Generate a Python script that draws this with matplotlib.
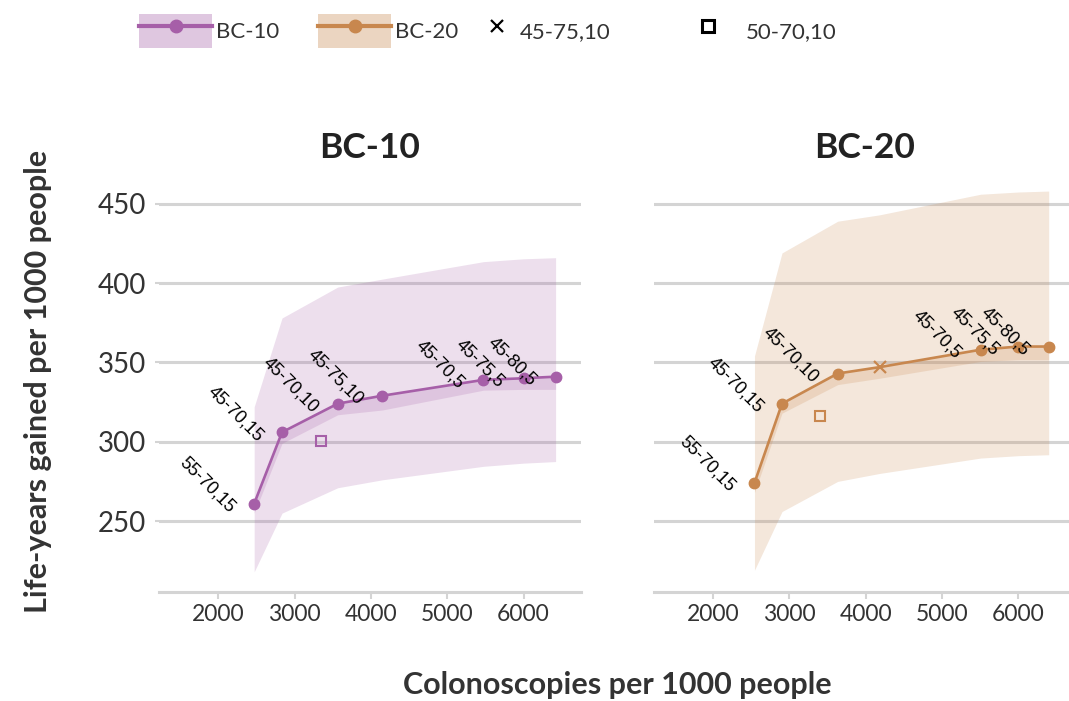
import matplotlib.pyplot as plt
from matplotlib.lines import Line2D
from matplotlib.patches import Patch

# Efficient-frontier strategies (start age - stop age, interval)
x_bc10 = [2470, 2835, 3565, 4150, 5475, 6000, 6420]
y_bc10 = [261, 306, 324, 329, 339, 340, 341]
lab_bc10 = ["55-70,15", "45-70,15", "45-70,10", "45-75,10", "45-70,5", "45-75,5", "45-80,5"]
mk_bc10 = ["o", "o", "o", "o", "o", "o", "o"]
hi_bc10 = [322, 378, 397.5, 402.5, 413.5, 415.3, 416]
lo_bc10 = [218, 255, 271, 276, 284.5, 286.5, 287.5]
inner_bc10 = [255, 299, 317, 320, 332.5, 333, 333]
sq_bc10 = (3343, 300.5)

x_bc20 = [2544, 2905, 3635, 4183, 5508, 6000, 6400]
y_bc20 = [274, 324, 343, 347, 358, 360, 360]
lab_bc20 = ["55-70,15", "45-70,15", "45-70,10", "", "45-70,5", "45-75,5", "45-80,5"]
mk_bc20 = ["o", "o", "o", "x", "o", "o", "o"]
hi_bc20 = [354, 419, 439, 443, 456, 457.4, 458]
lo_bc20 = [219, 256, 275, 280, 289.7, 291.2, 291.8]
inner_bc20 = [268, 318, 336, 340, 350.6, 351.7, 351.7]
sq_bc20 = (3404, 316.5)

purple = "#a65fa8"
tan = "#c8874e"
grid_c = "#d4d4d4"
text_c = "#333333"

plt.rcParams["font.family"] = ["Lato", "DejaVu Sans"]

fig = plt.figure(figsize=(10.69, 7.01), dpi=100)
ax1 = fig.add_axes([0.1487, 0.156, 0.3948, 0.5986])
ax2 = fig.add_axes([0.6114, 0.156, 0.3948, 0.5986])

panels = [
    (ax1, "BC-10", purple, x_bc10, y_bc10, lab_bc10, mk_bc10, hi_bc10, lo_bc10, inner_bc10, sq_bc10),
    (ax2, "BC-20", tan, x_bc20, y_bc20, lab_bc20, mk_bc20, hi_bc20, lo_bc20, inner_bc20, sq_bc20),
]

for ax, title, col, xs, ys, labs, mks, hi, lo, inner, sq in panels:
    ax.fill_between(xs, lo, hi, color=col, alpha=0.2, lw=0, zorder=1)
    ax.fill_between(xs, inner, ys, color=col, alpha=0.2, lw=0, zorder=1)
    ax.plot(xs, ys, color=col, lw=1.9, zorder=3)
    for x, y, m in zip(xs, ys, mks):
        if m == "o":
            ax.plot(x, y, "o", color=col, ms=7.5, zorder=4)
        else:
            ax.plot(x, y, "x", color=col, ms=9, mew=1.6, zorder=4)
    ax.plot(sq[0], sq[1], "s", mfc="none", mec=col, ms=7.5, mew=1.5, zorder=4)
    for x, y, lab in zip(xs, ys, labs):
        if lab:
            ax.annotate(lab, (x, y), xytext=(-18, -7), textcoords="offset points",
                        rotation=-45, rotation_mode="anchor", ha="right", va="baseline",
                        fontsize=13, family=["Liberation Sans", "DejaVu Sans"], zorder=5)

    ax.set_xlim(1222, 6753)
    ax.set_ylim(205.5, 470)
    ax.set_xticks([2000, 3000, 4000, 5000, 6000])
    ax.set_yticks([250, 300, 350, 400, 450])
    ax.grid(axis="y", color=grid_c, lw=2.2, zorder=0)
    ax.set_axisbelow(True)
    for s in ["top", "right", "left"]:
        ax.spines[s].set_visible(False)
    ax.spines["bottom"].set_color(grid_c)
    ax.spines["bottom"].set_linewidth(2.2)
    ax.tick_params(axis="x", colors=grid_c, length=5, width=1.5, pad=4,
                   labelsize=16.5, labelcolor=text_c)
    ax.tick_params(axis="y", colors=grid_c, length=3, width=1.5, pad=6,
                   labelsize=20, labelcolor=text_c)
    ax.set_title(title, fontsize=25.5, fontweight="bold", color="#222222", pad=10)

ax2.tick_params(axis="y", left=False, labelleft=False)

fig.text(38 / 1069, 1 - 381 / 701, "Life-years gained per 1000 people", rotation=90,
         ha="center", va="center", fontsize=22, fontweight="bold", color=text_c)
fig.text(617 / 1069, 1 - 685 / 701, "Colonoscopies per 1000 people",
         ha="center", va="center", fontsize=22, fontweight="bold", color=text_c)

# Legend: one small legend per entry so each can sit at its own spot
fs = 16
px = fs * 100 / 72
entries = [
    ((Patch(facecolor=purple, alpha=0.35, lw=0),
      Line2D([], [], color=purple, lw=3, marker="o", ms=9)), "BC-10", 139, 73, 4),
    ((Patch(facecolor=tan, alpha=0.35, lw=0),
      Line2D([], [], color=tan, lw=3, marker="o", ms=9)), "BC-20", 318, 73, 4),
    (Line2D([], [], ls="none", marker="x", color="black", ms=8, mew=1.6), "45-75,10", 486, 22, 12),
    (Line2D([], [], ls="none", marker="s", mfc="white", mec="black", ms=8, mew=2.2), "50-70,10", 697, 22, 27),
]
for handle, label, x0, hlen, pad in entries:
    leg = fig.legend([handle], [label], loc="center left",
                     bbox_to_anchor=(x0 / 1069, 1 - 31 / 701), frameon=False,
                     fontsize=fs, borderpad=0, borderaxespad=0,
                     handlelength=hlen / px, handleheight=43 / px,
                     handletextpad=pad / px, labelcolor=text_c)

fig.savefig("out.png", dpi=100)
